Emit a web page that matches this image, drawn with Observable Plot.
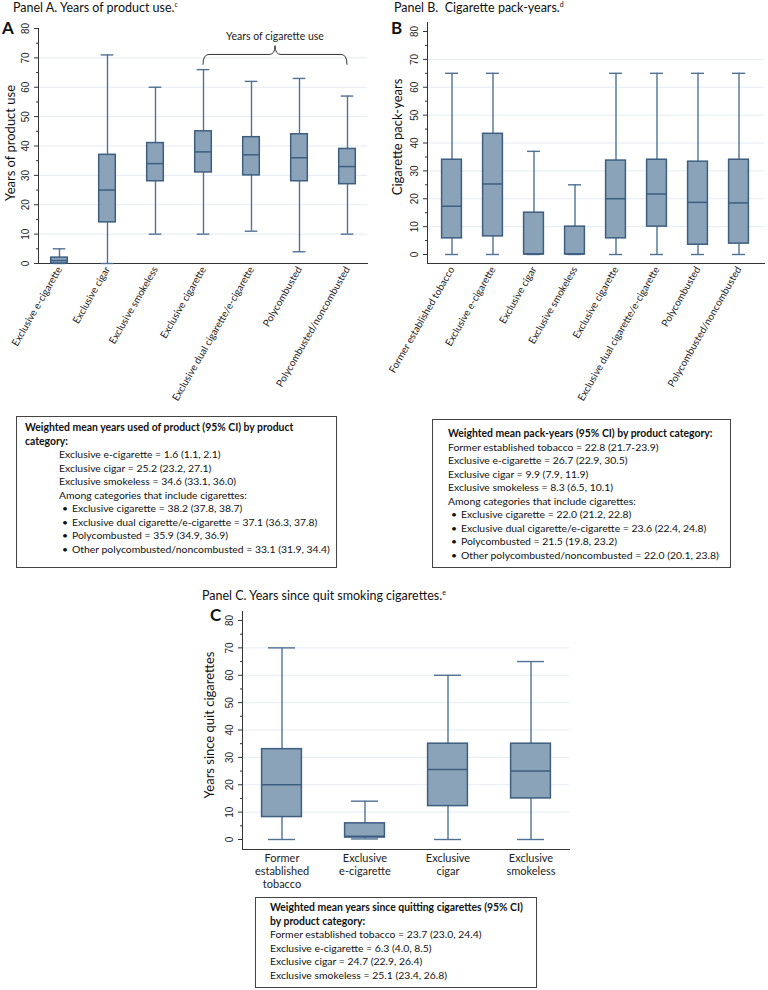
<!DOCTYPE html>
<html><head><meta charset="utf-8">
<script src="https://cdn.jsdelivr.net/npm/d3@7"></script>
<script src="https://cdn.jsdelivr.net/npm/@observablehq/plot@0.6"></script>
<style>
body{margin:0;background:#fff;}
#page{position:relative;width:768px;height:990px;font-family:Lato,"Open Sans",sans-serif;color:#111;overflow:hidden;}
.abs{position:absolute;}
.ptitle{font-size:12.5px;white-space:nowrap;line-height:14px;}
.ptitle sup{font-size:7px;line-height:0;}
.letter{font-size:17px;font-weight:bold;line-height:14px;}
.ytitle{font-size:13px;white-space:nowrap;transform:translate(-50%,-50%) rotate(-90deg);line-height:16px;}
.box{border:1px solid #444;font-size:10.4px;line-height:13.5px;box-sizing:border-box;white-space:nowrap;}
.box b{font-weight:bold;}
.ind{padding-left:34px;}
.bul{display:flex;}
.bul span.d{display:inline-block;flex-shrink:0;width:10px;padding-left:3px;text-align:left;}
</style></head>
<body><div id="page"></div>
<script>
// ---------- DATA ----------
const majorTicks = [0, 10, 20, 30, 40, 50, 60, 70, 80];
const minorTicks = [5, 15, 25, 35, 45, 55, 65, 75];
const gridTicks = [10, 20, 30, 40, 50, 60, 70];

// Panel A: years of product use
const catsA = ["Exclusive e-cigarette", "Exclusive cigar", "Exclusive smokeless", "Exclusive cigarette",
  "Exclusive dual cigarette/e-cigarette", "Polycombusted", "Polycombusted/noncombusted"];
const minA = [0, 0, 10, 10, 11, 4, 10];
const q1A  = [0, 14, 28, 31, 30, 28, 27];
const medA = [1, 25, 34, 38, 37, 36, 33];
const q3A  = [2, 37, 41, 45, 43, 44, 39];
const maxA = [5, 71, 60, 66, 62, 63, 57];
const braceCatsA = ["Exclusive cigarette", "Polycombusted/noncombusted"];
const braceLevelsA = [67.5, 71, 74, 77.2];
const braceLabelA = "Years of cigarette use";

// Panel B: cigarette pack-years
const catsB = ["Former established tobacco", "Exclusive e-cigarette", "Exclusive cigar", "Exclusive smokeless",
  "Exclusive cigarette", "Exclusive dual cigarette/e-cigarette", "Polycombusted", "Polycombusted/noncombusted"];
const minB = [0, 0, 0, 0, 0, 0, 0, 0];
const q1B  = [5.8, 6.5, 0, 0, 5.8, 10, 3.5, 3.9];
const medB = [17.3, 25.3, 0.2, 0.2, 20, 21.7, 18.7, 18.5];
const q3B  = [34, 43.3, 15, 10, 33.7, 34, 33.3, 34];
const maxB = [65, 65, 37, 25, 65, 65, 65, 65];

// Panel C: years since quit cigarettes
const catsC = ["Former established tobacco", "Exclusive e-cigarette", "Exclusive cigar", "Exclusive smokeless"];
const labelsC = ["Former\nestablished\ntobacco", "Exclusive\ne-cigarette", "Exclusive\ncigar", "Exclusive\nsmokeless"];
const minC = [0, 0.2, 0, 0];
const q1C  = [8.2, 0.7, 12.2, 15];
const medC = [20, 1.2, 25.6, 25];
const q3C  = [33, 5.9, 35, 35];
const maxC = [70, 14, 60, 65];

// ---------- STYLE ----------
const FILL = "#8ba3b9", EDGE = "#3d5e80", WHISK = "#4f7294", GRID = "#e4ecf1", AXIS = "#333";
const TICKFONT = "Liberation Sans, Arial, sans-serif";

function rows(cats, mn, q1, md, q3, mx) {
  return cats.map((cat, i) => ({cat, min: mn[i], q1: q1[i], med: md[i], q3: q3[i], max: mx[i]}));
}
function boxMarks(data, boxInset, capInset) {
  return [
    Plot.ruleX(data, {x: "cat", y1: "min", y2: "q1", stroke: WHISK, strokeWidth: 1.4}),
    Plot.ruleX(data, {x: "cat", y1: "q3", y2: "max", stroke: WHISK, strokeWidth: 1.4}),
    Plot.tickY(data, {x: "cat", y: "min", stroke: WHISK, strokeWidth: 1.4, insetLeft: capInset, insetRight: capInset}),
    Plot.tickY(data, {x: "cat", y: "max", stroke: WHISK, strokeWidth: 1.4, insetLeft: capInset, insetRight: capInset}),
    Plot.barY(data, {x: "cat", y1: "q1", y2: "q3", fill: FILL, stroke: EDGE, strokeWidth: 1.5, insetLeft: boxInset, insetRight: boxInset}),
    Plot.tickY(data, {x: "cat", y: "med", stroke: EDGE, strokeWidth: 1.5, insetLeft: boxInset, insetRight: boxInset})
  ];
}
function yAxisMarks() {
  return [
    Plot.gridY(gridTicks, {stroke: GRID, strokeOpacity: 1}),
    Plot.axisY(minorTicks, {tickSize: 2, tickFormat: () => "", label: null, stroke: AXIS}),
    Plot.axisY(majorTicks, {tickSize: 4, tickPadding: 6, tickRotate: -90, textAnchor: "middle", label: null,
      fontFamily: TICKFONT, fontSize: 10, stroke: AXIS, fill: "#222"}),
    Plot.frame({anchor: "left", stroke: AXIS}),
    Plot.frame({anchor: "bottom", stroke: AXIS})
  ];
}
function bandCenter(s, v) {
  const bw = typeof s.bandwidth === "function" ? s.bandwidth() : (s.bandwidth || 0);
  return s(v) + bw / 2;
}
function braceMark(cats, levels, label) {
  return (index, scales) => {
    const x1 = bandCenter(scales.x, cats[0]), x2 = bandCenter(scales.x, cats[1]), xm = (x1 + x2) / 2;
    const [yEnd, yBar, yPeak, yText] = levels.map(v => scales.y(v));
    const r = 6;
    const g = d3.create("svg:g");
    g.append("path")
      .attr("d", `M${x1},${yEnd} Q${x1},${yBar} ${x1 + r},${yBar} L${xm - r},${yBar} Q${xm},${yBar} ${xm},${yPeak} Q${xm},${yBar} ${xm + r},${yBar} L${x2 - r},${yBar} Q${x2},${yBar} ${x2},${yEnd}`)
      .attr("fill", "none").attr("stroke", "#333").attr("stroke-width", 1);
    g.append("text").attr("x", xm).attr("y", yText).attr("text-anchor", "middle").attr("dy", "0.35em")
      .attr("font-size", 10.5).attr("fill", "#222").text(label);
    return g.node();
  };
}

const page = document.getElementById("page");
function place(el, left, top) {
  const d = document.createElement("div");
  d.className = "abs"; d.style.left = left + "px"; d.style.top = top + "px";
  d.appendChild(el); page.appendChild(d); return d;
}
function html(cls, left, top, inner, extra) {
  const d = document.createElement("div");
  d.className = "abs " + cls; d.style.left = left + "px"; d.style.top = top + "px";
  if (extra) Object.assign(d.style, extra);
  d.innerHTML = inner; page.appendChild(d); return d;
}

// ---------- PANEL A ----------
const plotA = Plot.plot({
  width: 380, height: 390,
  marginLeft: 38, marginRight: 13, marginTop: 8, marginBottom: 147,
  x: {domain: catsA, range: [33, 372], padding: 0},
  y: {domain: [0, 80]},
  style: {fontFamily: "Lato, sans-serif", fontSize: "10px", background: "transparent", overflow: "visible"},
  marks: [
    ...yAxisMarks(),
    Plot.axisX({tickSize: 0, tickRotate: -60, tickPadding: 4, label: null, fontSize: 10, fill: "#222"}),
    ...boxMarks(rows(catsA, minA, q1A, medA, q3A, maxA), 15.7, 17.7),
    braceMark(braceCatsA, braceLevelsA, braceLabelA)
  ]
});
place(plotA, 0, 20);

// ---------- PANEL B ----------
const plotB = Plot.plot({
  width: 384, height: 400,
  marginLeft: 43, marginRight: 4, marginTop: 8, marginBottom: 151,
  x: {domain: catsB, range: [46.35, 376.65], padding: 0},
  y: {domain: [0, 80], range: [240, 17]},
  style: {fontFamily: "Lato, sans-serif", fontSize: "10px", background: "transparent", overflow: "visible"},
  marks: [
    ...yAxisMarks(),
    Plot.axisX({tickSize: 0, tickRotate: -60, tickPadding: 4, label: null, fontSize: 10, fill: "#222"}),
    ...boxMarks(rows(catsB, minB, q1B, medB, q3B, maxB), 10.6, 14)
  ]
});
place(plotB, 384, 14);

// ---------- PANEL C ----------
const plotC = Plot.plot({
  width: 400, height: 290,
  marginLeft: 62, marginRight: 11, marginTop: 11, marginBottom: 41,
  x: {domain: catsC, range: [59.3, 392.7], padding: 0},
  y: {domain: [0, 80], range: [239, 20]},
  style: {fontFamily: "Lato, sans-serif", fontSize: "11px", background: "transparent", overflow: "visible"},
  marks: [
    ...yAxisMarks(),
    Plot.axisX({tickSize: 0, tickPadding: 3, label: null, fontSize: 11, lineHeight: 1.18, fill: "#222",
      tickFormat: d => labelsC[catsC.indexOf(d)]}),
    ...boxMarks(rows(catsC, minC, q1C, medC, q3C, maxC), 21.6, 28)
  ]
});
place(plotC, 180, 600);

// ---------- TEXT ----------
html("ptitle", 13, 1, "Panel A. Years of product use.<sup>c</sup>");
html("ptitle", 394, 1, "Panel B.&nbsp; Cigarette pack-years.<sup>d</sup>");
html("ptitle", 202, 589, "Panel C. Years since quit smoking cigarettes.<sup>e</sup>");
html("letter", 2, 21, "A");
html("letter", 391, 21, "B");
html("letter", 210, 608, "C");
html("ytitle", 10, 143, "Years of product use");
html("ytitle", 397, 137, "Cigarette pack-years");
html("ytitle", 209, 725, "Years since quit cigarettes");

const bul = t => `<div class="bul"><span class="d">•</span><span>${t}</span></div>`;
html("box", 16, 416,
  `<b>Weighted mean years used of product (95% CI) by product<br>category:</b>
   <div class="ind">Exclusive e-cigarette = 1.6 (1.1, 2.1)<br>Exclusive cigar = 25.2 (23.2, 27.1)<br>Exclusive smokeless = 34.6 (33.1, 36.0)<br>Among categories that include cigarettes:
   ${bul("Exclusive cigarette = 38.2 (37.8, 38.7)")}${bul("Exclusive dual cigarette/e-cigarette = 37.1 (36.3, 37.8)")}${bul("Polycombusted = 35.9 (34.9, 36.9)")}${bul("Other polycombusted/noncombusted = 33.1 (31.9, 34.4)")}</div>`,
  {width: "321px", height: "152px", padding: "4px 0 0 8px"});
html("box", 432, 419,
  `<b>Weighted mean pack-years (95% CI) by product category:</b><br>Former established tobacco = 22.8 (21.7-23.9)<br>Exclusive e-cigarette = 26.7 (22.9, 30.5)<br>Exclusive cigar = 9.9 (7.9, 11.9)<br>Exclusive smokeless = 8.3 (6.5, 10.1)<br>Among categories that include cigarettes:
   ${bul("Exclusive cigarette = 22.0 (21.2, 22.8)")}${bul("Exclusive dual cigarette/e-cigarette = 23.6 (22.4, 24.8)")}${bul("Polycombusted = 21.5 (19.8, 23.2)")}${bul("Other polycombusted/noncombusted = 22.0 (20.1, 23.8)")}`,
  {width: "299px", height: "149px", padding: "7px 0 0 15px"});
html("box", 255, 897,
  `<b>Weighted mean years since quitting cigarettes (95% CI)<br>by product category:</b><br>Former established tobacco = 23.7 (23.0, 24.4)<br>Exclusive e-cigarette = 6.3 (4.0, 8.5)<br>Exclusive cigar = 24.7 (22.9, 26.4)<br>Exclusive smokeless = 25.1 (23.4, 26.8)`,
  {width: "282px", height: "91px", padding: "3px 0 0 14px"});
</script>
</body></html>
